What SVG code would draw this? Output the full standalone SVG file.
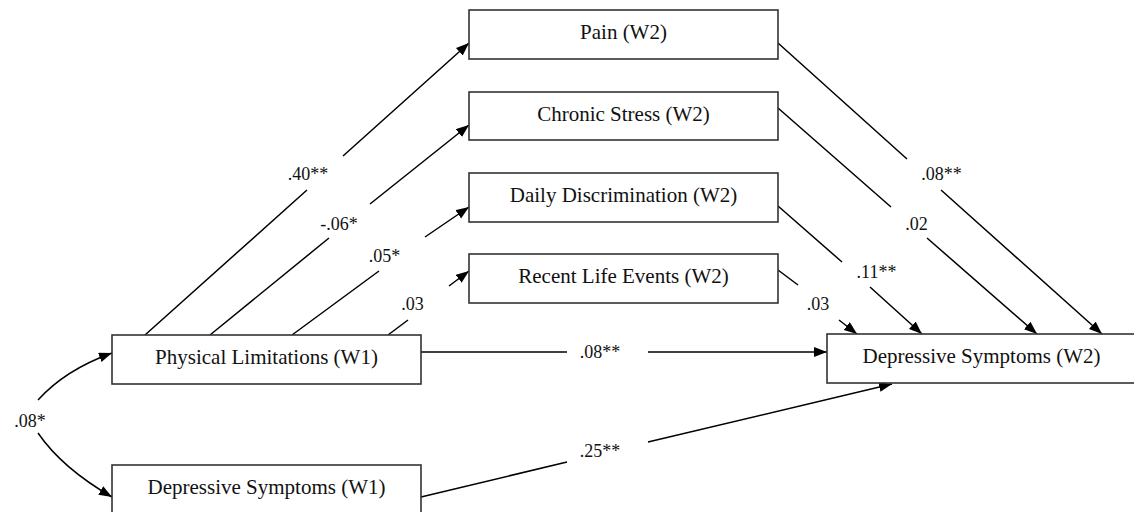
<svg xmlns="http://www.w3.org/2000/svg" width="1134" height="512" viewBox="0 0 1134 512">
<defs>
<marker id="arr" markerUnits="userSpaceOnUse" markerWidth="14" markerHeight="12" refX="13" refY="5" orient="auto">
<path d="M0,0 L13,5 L0,10 z" fill="#000"/>
</marker>
<style>
.box{fill:#fff;stroke:#333;stroke-width:1.6}
.bt{font-family:"Liberation Serif","Times New Roman",serif;font-size:21px;fill:#111;text-anchor:middle}
.lb{font-family:"Liberation Serif","Times New Roman",serif;font-size:18px;fill:#111;text-anchor:middle}
.ln{fill:none;stroke:#000;stroke-width:1.5;marker-end:url(#arr)}
</style>
</defs>
<rect width="1134" height="512" fill="#fff"/>
<g id="connectors">
<path class="ln" d="M145,335 L307,190 M343,156 L469,43"/>
<path class="ln" d="M210,335 L329,238 M370,204 L469,125"/>
<path class="ln" d="M292,335 L379,271 M425,237 L469,207"/>
<path class="ln" d="M388,335 L408,320 M449,286 L469,271"/>
<path class="ln" d="M778,43 L907,159 M941,190 L1102,334"/>
<path class="ln" d="M778,108 L891,207 M927,238 L1037,334"/>
<path class="ln" d="M778,206 L842,262 M870,287 L922,334"/>
<path class="ln" d="M778,270 L798,285 M839,320 L857,334"/>
<path class="ln" d="M421,352 L567,352 M648,352 L827,352"/>
<path class="ln" d="M421,497 L567,462 M648,442 L892,384"/>
<path class="ln" d="M38,400 Q65,370 112,353"/>
<path class="ln" d="M38,433 Q62,468 112,497"/>
<text class="lb" x="308" y="180">.40**</text>
<text class="lb" x="339" y="230">-.06*</text>
<text class="lb" x="384.5" y="262">.05*</text>
<text class="lb" x="412.5" y="310">.03</text>
<text class="lb" x="941.5" y="180">.08**</text>
<text class="lb" x="916.5" y="230">.02</text>
<text class="lb" x="876.5" y="278">.11**</text>
<text class="lb" x="818" y="310">.03</text>
<text class="lb" x="600" y="358">.08**</text>
<text class="lb" x="600" y="457">.25**</text>
<text class="lb" x="30" y="427">.08*</text>
</g>
<g id="pain"><rect class="box" x="469" y="10" width="309" height="49"/><text class="bt" x="623.5" y="39">Pain (W2)</text></g>
<g id="chronic-stress"><rect class="box" x="469" y="92" width="309" height="48"/><text class="bt" x="623.5" y="121">Chronic Stress (W2)</text></g>
<g id="daily-discrimination"><rect class="box" x="469" y="173" width="309" height="49"/><text class="bt" x="623.5" y="202">Daily Discrimination (W2)</text></g>
<g id="recent-life-events"><rect class="box" x="469" y="254" width="309" height="49"/><text class="bt" x="623.5" y="283">Recent Life Events (W2)</text></g>
<g id="physical-limitations"><rect class="box" x="112" y="335" width="309" height="49"/><text class="bt" x="266.5" y="364">Physical Limitations (W1)</text></g>
<g id="depressive-w1"><rect class="box" x="112" y="465" width="309" height="49"/><text class="bt" x="266.5" y="494">Depressive Symptoms (W1)</text></g>
<g id="depressive-w2"><rect class="box" x="827" y="334" width="309" height="49"/><text class="bt" x="981.5" y="363">Depressive Symptoms (W2)</text></g>
</svg>
